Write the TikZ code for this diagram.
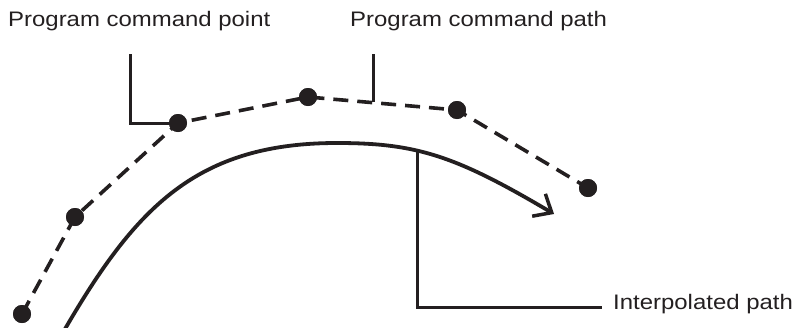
\documentclass[tikz,border=0pt]{standalone}
\usepackage{fontspec}
\setmainfont{Liberation Sans}[FakeStretch=1.14]
\usetikzlibrary{arrows.meta}
\definecolor{ink}{RGB}{35,31,32}
\begin{document}
\begin{tikzpicture}[x=1pt,y=-1pt,
  dot/.style={circle,fill=ink,inner sep=0pt,minimum size=18pt},
  dashline/.style={line width=3.6pt,dash pattern=on 15pt off 9pt,ink},
  leader/.style={line width=3pt,ink},
  curveline/.style={line width=3.8pt,ink,-{Straight Barb[length=15pt,width=26pt,line width=3.5pt]}},
  lbl/.style={anchor=base west,inner sep=0pt,font=\fontsize{21}{25}\selectfont,text=ink}]
\useasboundingbox (0,0) rectangle (795,327);
% command points
\node[dot] (p1) at (22,314) {};
\node[dot] (p2) at (75,217) {};
\node[dot] (p3) at (178,123) {};
\node[dot] (p4) at (308,97) {};
\node[dot] (p5) at (457,110) {};
\node[dot] (p6) at (588,188) {};
\draw[dashline] (p1.center) -- (p2.center) -- (p3.center) -- (p4.center) -- (p5.center) -- (p6.center);
\node[dot] at (p1) {};\node[dot] at (p2) {};\node[dot] at (p3) {};
\node[dot] at (p4) {};\node[dot] at (p5) {};\node[dot] at (p6) {};
% interpolated path
\coordinate (s0) at (65,329);
\coordinate (top) at (337,143);
\coordinate (s1) at (554,214);
\draw[curveline] (s0) .. controls (136,207) and (197,143) .. (top)
  .. controls (417,143) and (456,156) .. (s1);
% labels
\node[lbl] (tpoint) at (8,26) {Program command point};
\node[lbl] (tpath) at (350,26) {Program command path};
\node[lbl] (tinterp) at (613,309) {Interpolated path};
% leaders
\coordinate (a1) at (130,54);
\draw[leader] (a1) -- (130,123) -- (p3.center);
\coordinate (a2) at (373,54);
\coordinate (a2e) at (373,102);
\draw[leader] (a2) -- (a2e);
\coordinate (c1) at (417,149);
\coordinate (c2) at (602,307);
\draw[leader] (c1) -- (417,307) -- (c2);
\end{tikzpicture}
\end{document}
